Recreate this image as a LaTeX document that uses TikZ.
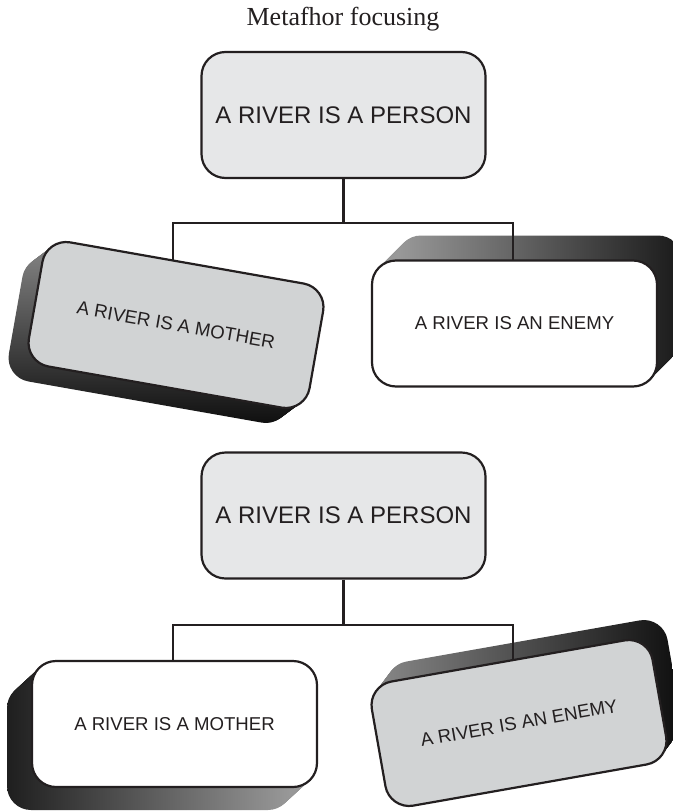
\documentclass[tikz,border=0pt]{standalone}
\usepackage{fontspec}
\setmainfont{Liberation Sans}
\newfontfamily\titlefont{Liberation Serif}
\usetikzlibrary{calc,positioning}
\definecolor{ink}{HTML}{231F20}
\definecolor{boxlight}{HTML}{E6E7E8}
\definecolor{boxgray}{HTML}{D1D3D4}
\pgfdeclarelayer{shadow}
\pgfdeclarelayer{lines}
\pgfsetlayers{shadow,lines,main}
\tikzset{
  bigbox/.style={draw=ink, line width=2.2pt, rounded corners=24pt, fill=boxlight,
    minimum width=284pt, minimum height=126pt, inner sep=0pt, text=ink,
    font=\fontsize{24}{28}\selectfont},
  smallbox/.style={bigbox, fill=white, minimum width=285pt, font=\fontsize{18.6}{22}\selectfont},
  tiltbox/.style={smallbox, fill=boxgray},
  shadowbox/.style={draw=none, rounded corners=24pt, minimum width=285pt,
    minimum height=126pt, inner sep=0pt},
  link/.style={draw=ink, line width=2.2pt},
}
% extruded shadow behind a box: (node)(dx,dy)[shading options]
\def\extrude(#1)(#2,#3)[#4]{%
  \foreach \k in {0,...,25}{
    \node[shadowbox,#4] at ($(#1)+({\k/25*(#2)},{\k/25*(#3)})$) {};
  }}

\begin{document}
\begin{tikzpicture}[x=1pt,y=-1pt]
  %%%%% START %%%%%
  \useasboundingbox (0,0) rectangle (672,811);

  \node[anchor=base, text=ink] (title) at (343,25) {\titlefont\fontsize{26}{30}\selectfont Metafhor focusing};

  % upper tree: mother in focus
  \node[bigbox] (p1) at (343.5,115) {A RIVER IS A PERSON};
  \node[tiltbox, rotate=-10] (m1) at (176,325) {A RIVER IS A MOTHER};
  \node[smallbox] (e1) at (514.5,323.5) {A RIVER IS AN ENEMY};
  \coordinate (bar1) at (343.5,223);

  % lower tree: enemy in focus
  \node[bigbox] (p2) at (343.5,515.5) {A RIVER IS A PERSON};
  \node[smallbox] (m2) at (174.5,724) {A RIVER IS A MOTHER};
  \node[tiltbox, rotate=10] (e2) at (519,723) {A RIVER IS AN ENEMY};
  \coordinate (bar2) at (343.5,625);

  \begin{pgfonlayer}{lines}
    \draw[link] (p1.south) -- (bar1);
    \draw[link] ([xshift=-3pt]m1.center) |- (bar1) -| ([xshift=-1.5pt]e1.center);
    \draw[link] (p2.south) -- (bar2);
    \draw[link] ([xshift=-1.5pt]m2.center) |- (bar2) -| ([xshift=-6pt]e2.center);
  \end{pgfonlayer}

  \begin{pgfonlayer}{shadow}
    \extrude(m1)(-20,15)[rotate=-10, top color=black!50, bottom color=black!95]
    \extrude(e1)(25,-25)[left color=black!40, right color=black!90]
    \extrude(m2)(-25,23)[left color=black!88, right color=black!40]
    \extrude(e2)(15,-20)[rotate=10, left color=black!48, right color=black!95]
  \end{pgfonlayer}

  %%%%% END %%%%%
\end{tikzpicture}
\end{document}
